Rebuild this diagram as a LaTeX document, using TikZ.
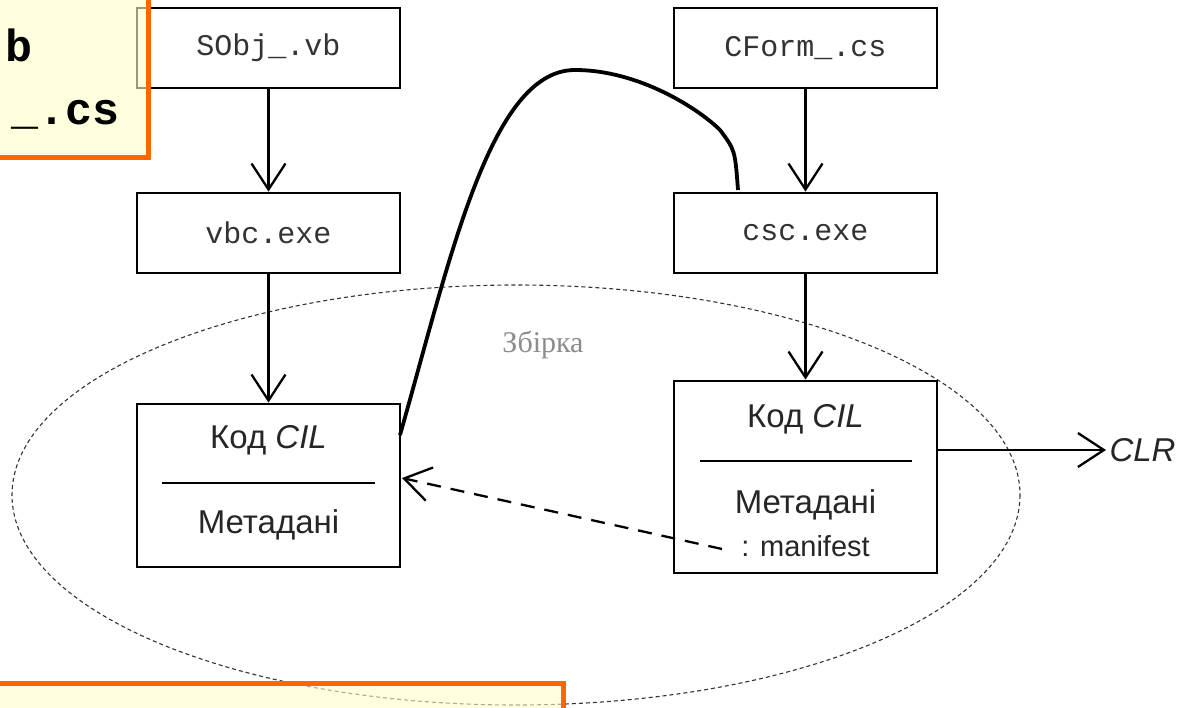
\documentclass[tikz,border=0pt]{standalone}
\usepackage{fontspec}
\setmainfont{Liberation Sans}
\newfontfamily\monofont{Liberation Mono}
\newfontfamily\seriffont{Liberation Serif}
\usetikzlibrary{arrows.meta}
\definecolor{calloutorange}{HTML}{FF6600}
\definecolor{calloutfill}{HTML}{FFFFC8}
\tikzset{
  filebox/.style={draw,line width=2.8pt,minimum width=263pt,minimum height=80pt,
    font=\monofont\fontsize{30}{36}\selectfont,text=black!80},
  cilbox/.style={draw,line width=2.8pt,minimum width=263pt},
  boxtext/.style={font=\fontsize{33}{39}\selectfont,text=black!85},
  arr/.style={line width=2.3pt,-{Straight Barb[length=26pt,width=34pt,line width=2.3pt]}},
  callout/.style={draw=calloutorange,line width=5pt,fill=calloutfill,fill opacity=0.6},
  callouttext/.style={font=\monofont\bfseries\fontsize{45}{54}\selectfont}
}
\begin{document}
\begin{tikzpicture}[x=1pt,y=-1pt]
\useasboundingbox (0,0) rectangle (1186,707);
\fill[white] (0,0) rectangle (1186,707);
% Збірка
\draw[dashed,black!80,line width=1.1pt,dash pattern=on 4pt off 3pt] (516,495) ellipse [x radius=504,y radius=210];
\node[font=\seriffont\fontsize{30}{36}\selectfont,text=black!45] (asm) at (543,345) {Збірка};
% файли та компілятори
\node[filebox] (sobj) at (268.5,48) {SObj\_.vb};
\node[filebox] (cform) at (805.5,48) {CForm\_.cs};
\node[filebox] (vbc) at (268.5,233) {vbc.exe};
\node[filebox] (csc) at (805.5,233) {csc.exe};
% модулі
\node[cilbox,minimum height=163pt] (cilA) at (268.5,485.5) {};
\node[boxtext] (codeA) at (268.5,440) {Код \textit{CIL}};
\draw[line width=2.8pt] (162,483) -- (375,483);
\node[boxtext] (metaA) at (268.5,525) {Метадані};
\node[cilbox,minimum height=192pt] (cilB) at (805.5,477) {};
\node[boxtext] (codeB) at (805.5,419) {Код \textit{CIL}};
\draw[line width=2.8pt] (700,461) -- (912,461);
\node[boxtext] (metaB) at (805.5,505) {Метадані};
\node[boxtext,font=\fontsize{29}{34}\selectfont] (manif) at (805.5,546) {: manifest};
\node[boxtext,anchor=west] (clr) at (1106,450) {\textit{CLR}};
% стрілки
\draw[arr] (sobj) -- (vbc);
\draw[arr] (vbc) -- (cilA);
\draw[arr] (cform) -- (csc);
\draw[arr] (csc) -- (cilB);
\draw[arr] (cilB.east |- clr.west) -- (clr.west);
\coordinate (mfstart) at (722,549);
\coordinate (mfend) at (402,478);
\draw[arr,dashed,dash pattern=on 14pt off 10pt] (mfstart) -- (mfend);
% крива
\coordinate (loopA) at (400,435);
\coordinate (loopB) at (738,190);
\draw[line width=3.8pt] (loopA) .. controls (450,260) and (490,70) .. (575,70)
  .. controls (640,70) and (700,110) .. (720,130) .. controls (735,150) .. (loopB);
% виноски
\draw[callout] (-10,-10) rectangle (148,157);
\node[callouttext,anchor=east] (nameA) at (36,45) {b};
\node[callouttext,anchor=east] (nameB) at (123,115) {\_.cs};
\draw[callout] (-10,683) rectangle (563,730);
\end{tikzpicture}
\end{document}
